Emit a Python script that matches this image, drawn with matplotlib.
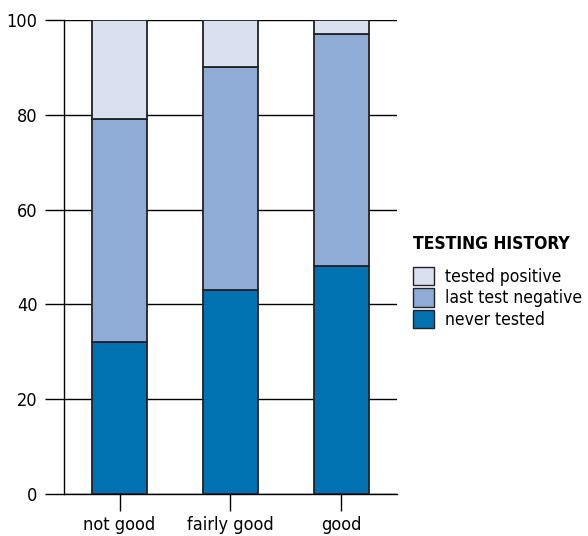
import numpy as np
import matplotlib.pyplot as plt
from matplotlib.patches import Patch

plt.rcParams['font.family'] = ['DejaVu Sans']
plt.rcParams['font.stretch'] = 'condensed'

categories = ['not good', 'fairly good', 'good']
never_tested = [32, 43, 48]
last_negative = [47, 47, 49]
tested_positive = [21, 10, 3]

col_pos = '#d9e0ef'
col_neg = '#8eacd5'
col_never = '#0072b2'
edge = '#222222'

fig = plt.figure(figsize=(5.88, 5.36), dpi=100)
ax = fig.add_axes([0.109, 0.078, 0.566, 0.885])

x = np.arange(len(categories))
w = 0.5
ax.bar(x, never_tested, w, color=col_never, edgecolor=edge, linewidth=1.3, zorder=3)
ax.bar(x, last_negative, w, bottom=never_tested, color=col_neg, edgecolor=edge, linewidth=1.3, zorder=3)
bottom2 = np.array(never_tested) + np.array(last_negative)
ax.bar(x, tested_positive, w, bottom=bottom2, color=col_pos, edgecolor=edge, linewidth=1.3, zorder=3)

ax.set_xlim(-0.5, 2.5)
ax.set_ylim(0, 100)
ax.set_yticks([0, 20, 40, 60, 80, 100])
ax.set_xticks(x)
ax.set_xticklabels(categories)
ax.yaxis.grid(True, color='black', linewidth=1, zorder=0)
ax.set_axisbelow(True)
for s in ['top', 'right']:
    ax.spines[s].set_visible(False)
ax.spines['left'].set_linewidth(1)
ax.spines['bottom'].set_linewidth(1)
ax.tick_params(axis='y', length=14, width=1, labelsize=13, pad=5)
ax.tick_params(axis='x', length=12, width=1, labelsize=13, pad=4)

handles = [Patch(facecolor=col_pos, edgecolor=edge, label='tested positive'),
           Patch(facecolor=col_neg, edgecolor=edge, label='last test negative'),
           Patch(facecolor=col_never, edgecolor=edge, label='never tested')]
leg = fig.legend(handles=handles, title='TESTING HISTORY', loc='upper left',
                 bbox_to_anchor=(0.69, 0.575), frameon=False, fontsize=12.5,
                 handlelength=1.25, handleheight=1.25, handletextpad=0.6,
                 labelspacing=0.15, borderaxespad=0)
leg.get_title().set_fontweight('bold')
leg.get_title().set_fontsize(12.5)
leg._legend_box.align = 'left'
leg._legend_box.sep = 10

fig.savefig('out.png', dpi=100)
